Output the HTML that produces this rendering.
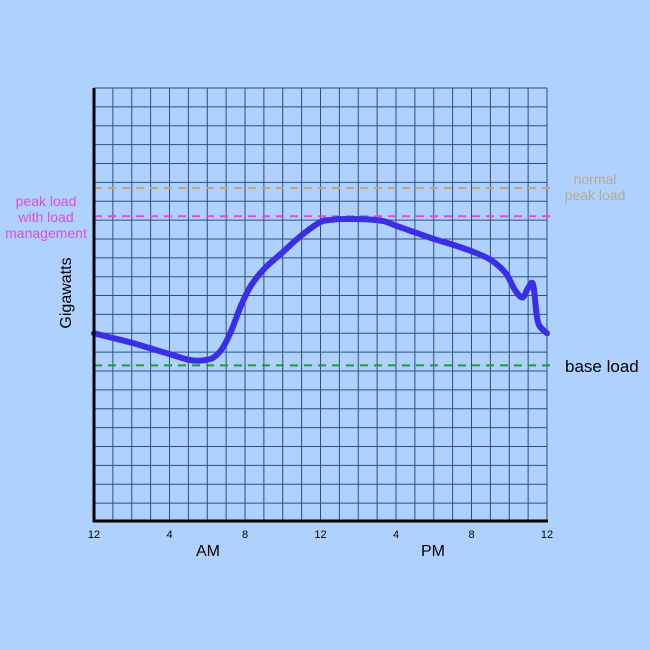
<!DOCTYPE html>
<html><head><meta charset="utf-8"><style>
html,body{margin:0;padding:0;background:#afd1fe;}
svg{display:block;font-family:"Liberation Sans","DejaVu Sans",sans-serif;}
</style></head><body>
<svg id="chart" width="650" height="650">
<rect width="650" height="650" fill="#afd1fe"/>
<g id="grid"></g>
<g id="refs"></g>
<path id="curve" fill="none" stroke="#3a2ee6" stroke-width="6" stroke-linecap="round" stroke-linejoin="round"/>
<line x1="94" y1="88" x2="94" y2="522" stroke="#000" stroke-width="3"/>
<line x1="93" y1="521" x2="548" y2="521" stroke="#000" stroke-width="3"/>
<g id="xt" font-size="11" fill="#000" text-anchor="middle"></g>
<text x="208" y="556" font-size="16" text-anchor="middle">AM</text>
<text x="433" y="556" font-size="16" text-anchor="middle">PM</text>
<text transform="translate(71,293) rotate(-90)" font-size="16" text-anchor="middle">Gigawatts</text>
<text x="46" y="206" font-size="14" fill="#dd4de0" text-anchor="middle">peak load</text>
<text x="46" y="222" font-size="14" fill="#dd4de0" text-anchor="middle">with load</text>
<text x="46" y="238" font-size="14" fill="#dd4de0" text-anchor="middle">management</text>
<text x="595" y="184" font-size="14" fill="#b8a890" text-anchor="middle">normal</text>
<text x="595" y="200" font-size="14" fill="#b8a890" text-anchor="middle">peak load</text>
<text x="565" y="372" font-size="17" fill="#000">base load</text>
</svg>
<script>
const hours=[0,1,2,3,4,5,5.6,6.3,6.8,7.3,7.8,8.3,9,10,11,12,12.5,13,14,15,15.5,16,17,18,19,20,21,21.8,22.3,22.7,23.0,23.26,23.45,23.6,24];
const load=[10.0,9.75,9.5,9.2,8.9,8.6,8.55,8.7,9.2,10.2,11.5,12.5,13.4,14.3,15.2,15.9,16.0,16.05,16.05,16.0,15.9,15.7,15.35,15.0,14.7,14.35,13.9,13.2,12.3,11.9,12.4,12.6,11.0,10.4,10.0];
const xTicks=[0,4,8,12,16,20,24];
const xTickLabels=["12","4","8","12","4","8","12"];
const refValues=[17.7,16.2,8.3];
const refColors=["#c8a27a","#dd4de0","#1e9a3a"];
const refNames=["normal-peak-line","managed-peak-line","base-load-line"];
const X0=94,X1=547,Y0=522,UNIT=18.87;
const sx=h=>X0+(X1-X0)*h/24;
const sy=v=>Y0-v*UNIT;
const NS="http://www.w3.org/2000/svg";
const grid=document.getElementById('grid');
for(let i=1;i<=24;i++){const l=document.createElementNS(NS,'line');


const x=sx(i);l.setAttribute('x1',x);l.setAttribute('x2',x);l.setAttribute('y1',88);l.setAttribute('y2',Y0);l.setAttribute('stroke','#2f4f78');l.setAttribute('stroke-width','1');grid.appendChild(l);}
for(let j=0;j<=23;j++){const l=document.createElementNS(NS,'line');


const y=Y0-j*UNIT;l.setAttribute('x1',X0);l.setAttribute('x2',X1);l.setAttribute('y1',y);l.setAttribute('y2',y);l.setAttribute('stroke','#2f4f78');l.setAttribute('stroke-width','1');grid.appendChild(l);}
const refs=document.getElementById('refs');
refValues.forEach((v,i)=>{const l=document.createElementNS(NS,'line');


const y=sy(v);l.setAttribute('x1',X0);l.setAttribute('x2',556);l.setAttribute('y1',y);l.setAttribute('y2',y);l.setAttribute('stroke',refColors[i]);l.setAttribute('stroke-width','2');l.setAttribute('stroke-dasharray','8,6');refs.appendChild(l);});
const xt=document.getElementById('xt');
xTicks.forEach((h,i)=>{const t=document.createElementNS(NS,'text');


t.setAttribute('x',sx(h));t.setAttribute('y',538);t.textContent=xTickLabels[i];xt.appendChild(t);});
const P=hours.map((h,i)=>[sx(h),sy(load[i])]);
let d='M'+P[0][0]+','+P[0][1];
for(let i=0;i<P.length-1;i++){const p0=P[Math.max(0,i-1)],p1=P[i],p2=P[i+1],p3=P[Math.min(P.length-1,i+2)];
const c1=[p1[0]+(p2[0]-p0[0])/6,p1[1]+(p2[1]-p0[1])/6],c2=[p2[0]-(p3[0]-p1[0])/6,p2[1]-(p3[1]-p1[1])/6];
d+=` C${c1[0]},${c1[1]} ${c2[0]},${c2[1]} ${p2[0]},${p2[1]}`;}
document.getElementById('curve').setAttribute('d',d);
</script>
</body></html>
